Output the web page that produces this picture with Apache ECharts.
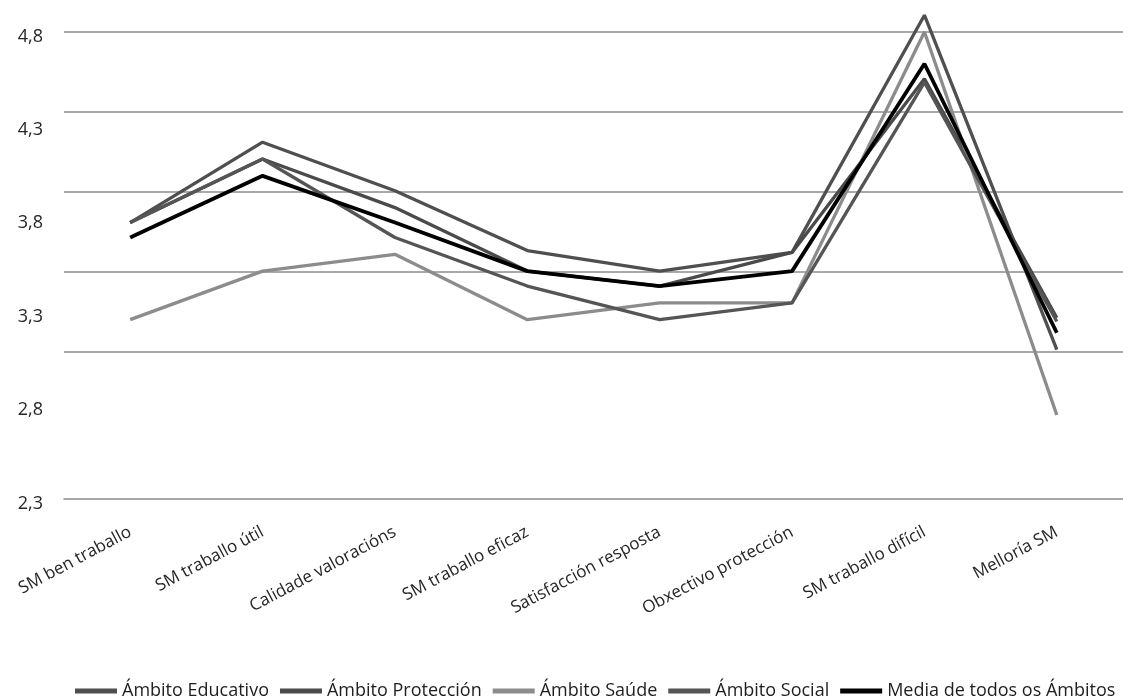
<!DOCTYPE html>
<html>
<head>
<meta charset="utf-8">
<script src="https://cdn.jsdelivr.net/npm/echarts@6/dist/echarts.min.js"></script>
<style>
  html, body { margin: 0; padding: 0; background: #ffffff; }
  #chart { width: 1123px; height: 698px; }
</style>
</head>
<body>
<div id="chart"></div>
<script>
// Categories along the x axis
const categories = [
  'SM ben traballo',
  'SM traballo útil',
  'Calidade valoracións',
  'SM traballo eficaz',
  'Satisfacción resposta',
  'Obxectivo protección',
  'SM traballo difícil',
  'Melloría SM'
];

// Mean scores per field
const educativo  = [3.78, 4.21, 3.95, 3.63, 3.52, 3.62, 4.89, 3.10];
const proteccion = [3.78, 4.12, 3.86, 3.52, 3.44, 3.62, 4.55, 3.27];
const saude      = [3.26, 3.52, 3.61, 3.26, 3.35, 3.35, 4.80, 2.75];
const social     = [3.78, 4.12, 3.70, 3.44, 3.26, 3.35, 4.53, 3.25];
const media      = [3.70, 4.03, 3.78, 3.52, 3.44, 3.52, 4.63, 3.19];

// Value axis range and step
const yMin = 2.3;
const yMax = 4.8;
const yStep = 0.5;

const seriesDefs = [
  { name: 'Ámbito Educativo', data: educativo, color: '#4f4f4f' },
  { name: 'Ámbito Protección', data: proteccion, color: '#4a4a4a' },
  { name: 'Ámbito Saúde', data: saude, color: '#8c8c8c' },
  { name: 'Ámbito Social', data: social, color: '#555555' },
  { name: 'Media de todos os Ámbitos', data: media, color: '#000000' }
];

const FONT = '"Open Sans", "DejaVu Sans", sans-serif';
const chart = echarts.init(document.getElementById('chart'), null, { renderer: 'canvas' });

chart.setOption({
  animation: false,
  backgroundColor: '#ffffff',
  textStyle: { fontFamily: FONT },
  grid: [
    // plotting area
    { left: 64, width: 1070, top: 32, height: 467, containLabel: false },
    // horizontal rules behind the lines
    { left: 64, width: 1070, top: 32, height: 320, containLabel: false }
  ],
  legend: {
    left: 70,
    top: 677,
    icon: 'rect',
    itemWidth: 42,
    itemHeight: 5,
    itemGap: 11,
    textStyle: { fontFamily: FONT, fontSize: 18, color: '#1e1e1e' },
    data: seriesDefs.map(s => s.name)
  },
  xAxis: [
    {
      type: 'category',
      gridIndex: 0,
      data: categories,
      boundaryGap: true,
      axisLine: { show: true, lineStyle: { color: '#8c8c8c', width: 1.5 } },
      axisTick: { show: false },
      axisLabel: {
        rotate: 28,
        interval: 0,
        margin: 32,
        fontFamily: FONT,
        fontSize: 17,
        color: '#262626'
      }
    },
    {
      type: 'category',
      gridIndex: 1,
      data: categories,
      show: false
    }
  ],
  yAxis: [
    {
      type: 'value',
      gridIndex: 0,
      min: yMin,
      max: yMax,
      interval: yStep,
      axisLine: { show: false },
      axisTick: { show: false },
      splitLine: { show: false },
      axisLabel: {
        margin: 21,
        fontFamily: FONT,
        fontSize: 18,
        color: '#262626',
        formatter: v => '{t|' + v.toFixed(1).replace('.', ',') + '}',
        rich: {
          t: { fontFamily: FONT, fontSize: 18, color: '#262626', padding: [9, 0, 0, 0] }
        }
      }
    },
    {
      type: 'value',
      gridIndex: 1,
      min: 0,
      max: 4,
      interval: 1,
      axisLine: { show: false },
      axisTick: { show: false },
      axisLabel: { show: false },
      splitLine: { show: true, lineStyle: { color: '#8c8c8c', width: 1.5 } }
    }
  ],
  series: seriesDefs.map((s, i) => ({
    name: s.name,
    type: 'line',
    xAxisIndex: 0,
    yAxisIndex: 0,
    data: s.data,
    clip: false,
    symbol: 'none',
    z: i === 4 ? 10 : 5,
    color: s.color,
    lineStyle: { color: s.color, width: i === 4 ? 3.8 : 3.3 }
  }))
});
</script>
</body>
</html>
